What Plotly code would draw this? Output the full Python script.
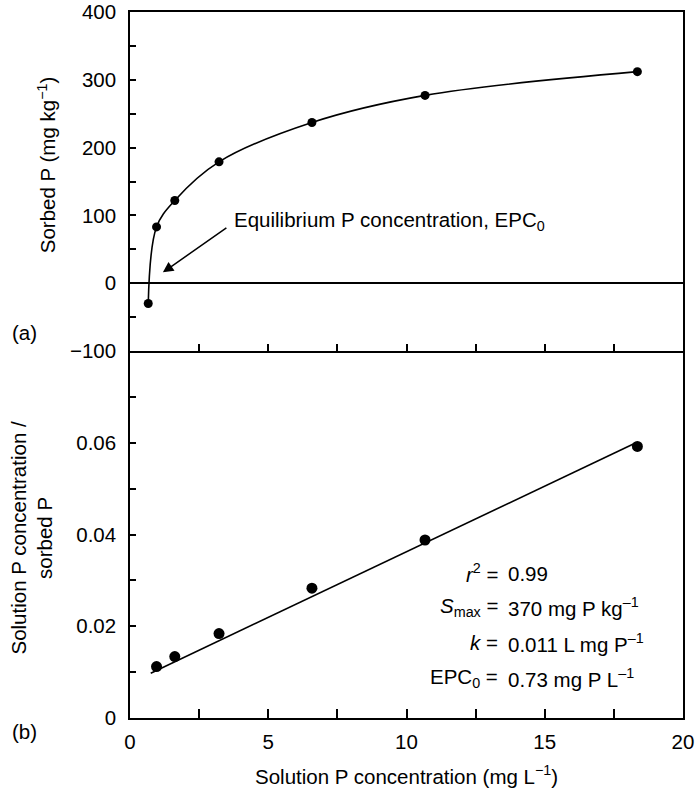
import plotly.graph_objects as go

# ---- data ----
solution_p = [0.66, 0.96, 1.62, 3.22, 6.58, 10.67, 18.35]          # mg L-1
sorbed_p = [-30, 83, 122, 179, 237, 277, 312]                        # mg kg-1

ratio_x = [0.96, 1.62, 3.22, 6.58, 10.67, 18.35]
ratio_y = [0.0112, 0.0134, 0.0184, 0.0283, 0.0388, 0.0592]

fit_x = [0.75, 18.3]
fit_y = [0.00976, 0.0600]

x_ticks = [0, 2.5, 5, 7.5, 10, 12.5, 15, 17.5, 20]
x_labels = ["0", "", "5", "", "10", "", "15", "", "20"]
top_y_ticks = [-100, -50, 0, 50, 100, 150, 200, 250, 300, 350, 400]
top_y_labels = ["\u2212100", "", "0", "", "100", "", "200", "", "300", "", "400"]
bot_y_ticks = [0, 0.01, 0.02, 0.03, 0.04, 0.05, 0.06, 0.07]
bot_y_labels = ["0", "", "0.02", "", "0.04", "", "0.06", ""]

stats_left = ["<i>r</i><sup>2</sup> =", "<i>S</i><sub>max</sub> =", "<i>k</i> =", "EPC<sub>0</sub> ="]
stats_right = ["0.99", "370 mg P kg<sup>\u20131</sup>", "0.011 L mg P<sup>\u20131</sup>", "0.73 mg P L<sup>\u20131</sup>"]
stats_y = [0.0316, 0.0242, 0.01635, 0.00872]

FONT = "Liberation Sans, Arial, sans-serif"
FS = 20.5

fig = go.Figure()

# top panel: sorption curve
fig.add_trace(go.Scatter(x=solution_p, y=sorbed_p, mode="lines",
                         line=dict(color="black", width=1.6, shape="spline", smoothing=1.0),
                         xaxis="x2", yaxis="y2", showlegend=False, hoverinfo="skip"))
fig.add_trace(go.Scatter(x=solution_p, y=sorbed_p, mode="markers",
                         marker=dict(color="black", size=9),
                         xaxis="x2", yaxis="y2", showlegend=False))

# bottom panel: linearised
fig.add_trace(go.Scatter(x=fit_x, y=fit_y, mode="lines",
                         line=dict(color="black", width=1.6),
                         xaxis="x", yaxis="y", showlegend=False, hoverinfo="skip"))
fig.add_trace(go.Scatter(x=ratio_x, y=ratio_y, mode="markers",
                         marker=dict(color="black", size=11),
                         xaxis="x", yaxis="y", showlegend=False))

split = 367 / 706

axis_common = dict(showline=True, linecolor="black", linewidth=1.5, showgrid=False,
                   zeroline=False, ticks="inside", tickcolor="black", tickwidth=1.5,
                   automargin=False, ticklabeloverflow="allow",
                   tickfont=dict(family=FONT, size=FS, color="black"))

fig.update_layout(
    width=696, height=788,
    margin=dict(l=130, r=13, t=12, b=70),
    paper_bgcolor="white", plot_bgcolor="white",
    font=dict(family=FONT, size=FS, color="black"),
    xaxis=dict(axis_common, range=[0, 20], tickmode="array", tickvals=x_ticks, ticktext=x_labels,
               ticklen=9, mirror=False, anchor="y", ticklabelstandoff=5),
    yaxis=dict(axis_common, range=[0, 0.08], domain=[0, split], tickmode="array",
               tickvals=bot_y_ticks, ticktext=bot_y_labels, ticklen=6, mirror=True,
               anchor="x", ticklabelstandoff=8),
    xaxis2=dict(axis_common, range=[0, 20], tickmode="array", tickvals=x_ticks,
                showticklabels=False, ticklen=7, mirror=True, anchor="y2"),
    xaxis3=dict(axis_common, range=[0, 20], tickmode="array", tickvals=x_ticks,
                showticklabels=False, ticklen=7, ticks="outside", showline=False,
                overlaying="x2", anchor="y2", side="bottom"),
    yaxis2=dict(axis_common, range=[-100, 400], domain=[split, 1], tickmode="array",
                tickvals=top_y_ticks, ticktext=top_y_labels, ticklen=6, mirror=True,
                anchor="x2", zeroline=True, zerolinecolor="black", zerolinewidth=1.5,
                ticklabelstandoff=8),
)

ann = []
# EPC arrow and label
ann.append(dict(x=1.19, y=16, xref="x2", yref="y2", ax=3.54, ay=83, axref="x2", ayref="y2",
                text="", showarrow=True, arrowhead=2, arrowsize=1.4, arrowwidth=1.5,
                arrowcolor="black"))
ann.append(dict(x=3.68, y=92, xref="x2", yref="y2", xanchor="left", yanchor="middle",
                text="Equilibrium P concentration, EPC<sub>0</sub>", showarrow=False,
                font=dict(family=FONT, size=FS, color="black")))
# stats
for l, r, yy in zip(stats_left, stats_right, stats_y):
    ann.append(dict(x=13.38, y=yy, xref="x", yref="y", xanchor="right", yanchor="middle",
                    text=l, showarrow=False, font=dict(family=FONT, size=FS, color="black")))
    ann.append(dict(x=13.6, y=yy, xref="x", yref="y", xanchor="left", yanchor="middle",
                    text=r, showarrow=False, font=dict(family=FONT, size=FS, color="black")))
# axis titles
ann.append(dict(x=-0.150, y=0.783, xref="paper", yref="paper", textangle=-90,
                text="Sorbed P (mg kg<sup>\u22121</sup>)", showarrow=False,
                xanchor="center", yanchor="middle"))
ann.append(dict(x=-0.178, y=0.255, xref="paper", yref="paper", textangle=-90,
                text="Solution P concentration /<br>sorbed P", showarrow=False,
                xanchor="center", yanchor="middle"))
ann.append(dict(x=0.5, y=-0.081, xref="paper", yref="paper",
                text="Solution P concentration (mg L<sup>\u22121</sup>)", showarrow=False,
                xanchor="center", yanchor="middle"))
ann.append(dict(x=-0.191, y=0.5467, xref="paper", yref="paper", text="(a)", showarrow=False,
                xanchor="center", yanchor="middle"))
ann.append(dict(x=-0.191, y=-0.0194, xref="paper", yref="paper", text="(b)", showarrow=False,
                xanchor="center", yanchor="middle"))
fig.update_layout(annotations=ann)

fig.write_html("out.html", config={"displayModeBar": False},
               post_script="document.body.style.margin='0';")
